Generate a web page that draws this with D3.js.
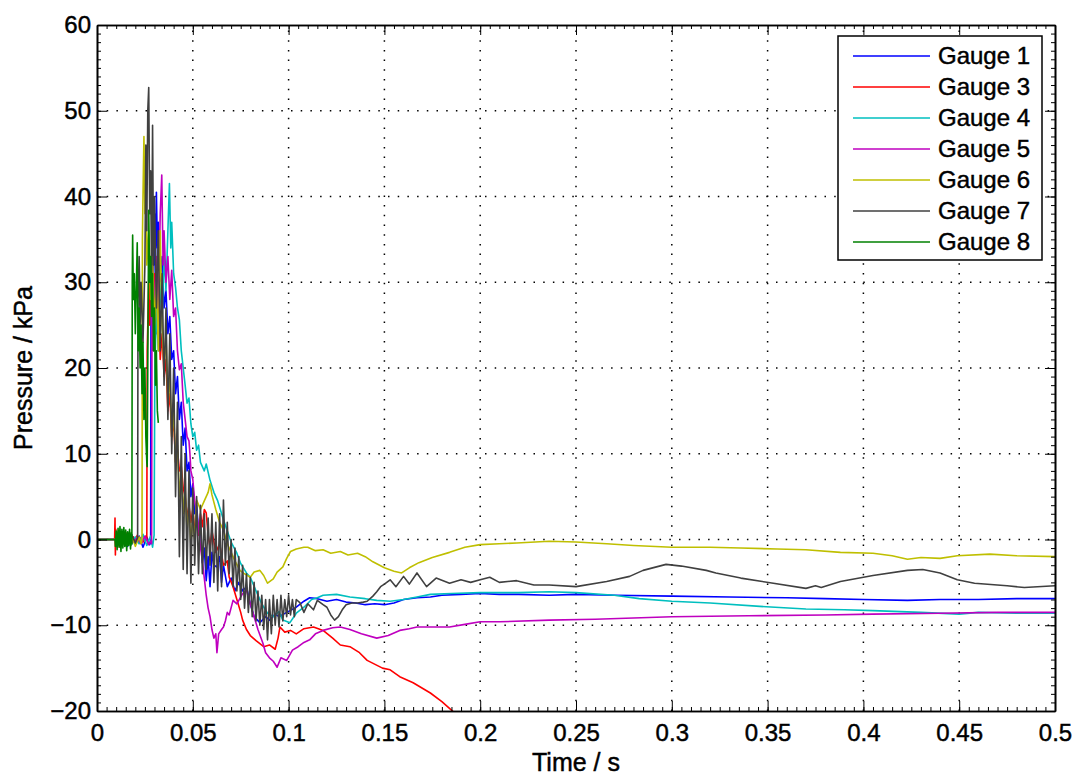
<!DOCTYPE html>
<html>
<head>
<meta charset="utf-8">
<script src="https://cdn.jsdelivr.net/npm/d3@7"></script>
<style>
  html, body { margin: 0; padding: 0; background: #fff; }
  svg { display: block; font-family: "Liberation Sans", Arial, Helvetica, sans-serif; }
  text.heavy { stroke: #000; stroke-width: 0.45px; }
</style>
</head>
<body>
<svg id="chart" width="1076" height="777"></svg>
<script>
// ---------------- data (time in s, pressure in kPa) ----------------
const xTicks = [0, 0.05, 0.1, 0.15, 0.2, 0.25, 0.3, 0.35, 0.4, 0.45, 0.5];
const xTickLabels = ["0", "0.05", "0.1", "0.15", "0.2", "0.25", "0.3", "0.35", "0.4", "0.45", "0.5"];
const yTicks = [-20, -10, 0, 10, 20, 30, 40, 50, 60];
const yTickLabels = ["\u221220", "\u221210", "0", "10", "20", "30", "40", "50", "60"];
const seriesNames = ["Gauge 1", "Gauge 3", "Gauge 4", "Gauge 5", "Gauge 6", "Gauge 7", "Gauge 8"];
const seriesColors = ["#0000ff", "#ff0000", "#00bfbf", "#bf00bf", "#bfbf00", "#404040", "#008000"];

const gauge1 = [[0,0],[0.012,0],[0.014,0.5],[0.016,-0.8],[0.018,0.6],[0.02,-0.5],[0.022,0.4],[0.024,-0.9],[0.026,0.3],[0.0275,-0.6],[0.028,-0.3],[0.0282,30],[0.029,36],[0.0295,28],[0.030,38],[0.0305,32],[0.031,40.5],[0.0315,34],[0.032,37],[0.033,30],[0.034,33],[0.035,27],[0.036,29],[0.037,24],[0.038,26],[0.039,21],[0.040,22],[0.041,17],[0.042,19],[0.043,14],[0.044,16],[0.045,11],[0.046,13],[0.047,8],[0.048,9],[0.049,5],[0.050,6.5],[0.051,3],[0.052,4],[0.053,1],[0.054,2],[0.055,-2.7],[0.056,-1],[0.057,-4.8],[0.058,-2],[0.059,-5.5],[0.060,-1.5],[0.061,-3],[0.0626,-3.2],[0.064,-2],[0.065,-5],[0.066,-3],[0.068,-5.5],[0.070,-4.5],[0.072,-6],[0.074,-5],[0.076,-6],[0.078,-5.5],[0.080,-7.5],[0.082,-9],[0.085,-9.7],[0.088,-9],[0.090,-9.4],[0.093,-8.7],[0.095,-9.0],[0.099,-8.5],[0.104,-7.9],[0.108,-7.2],[0.111,-6.8],[0.115,-6.9],[0.12,-7.2],[0.125,-7.0],[0.13,-7.3],[0.135,-7.4],[0.14,-7.6],[0.145,-7.5],[0.15,-7.6],[0.155,-7.4],[0.16,-7.0],[0.167,-6.8],[0.174,-6.7],[0.18,-6.5],[0.19,-6.4],[0.2,-6.3],[0.21,-6.4],[0.22,-6.4],[0.236,-6.5],[0.25,-6.4],[0.27,-6.5],[0.3,-6.6],[0.33,-6.7],[0.36,-6.8],[0.38,-6.9],[0.4,-7.0],[0.423,-7.1],[0.44,-7.0],[0.46,-7.0],[0.48,-6.9],[0.5,-6.9]];

const gauge3 = [[0,0],[0.0092,0],[0.0094,2.5],[0.0096,-1.8],[0.0098,1.2],[0.010,-0.8],[0.011,0.9],[0.012,-0.9],[0.013,0.6],[0.014,-0.5],[0.015,0.8],[0.016,-0.4],[0.017,0.5],[0.018,-0.6],[0.019,0.3],[0.020,-0.2],[0.021,0.5],[0.022,-0.4],[0.023,0.2],[0.024,-0.3],[0.0255,0.4],[0.026,0],[0.0262,22],[0.027,30],[0.0275,25],[0.028,33],[0.029,27],[0.030,31],[0.031,24],[0.032,28],[0.033,21],[0.034,24],[0.035,19],[0.036,21],[0.037,15],[0.038,17],[0.039,12],[0.040,14],[0.041,9],[0.042,10.5],[0.043,8],[0.044,8.5],[0.045,6],[0.046,5],[0.047,2.5],[0.048,4],[0.049,2],[0.050,3.5],[0.051,1],[0.052,2.5],[0.053,0.5],[0.054,3],[0.055,1.5],[0.056,3.5],[0.057,3.1],[0.058,0.5],[0.059,-0.9],[0.060,1],[0.062,-1.5],[0.064,-0.5],[0.066,-3],[0.068,-2.5],[0.069,-4.4],[0.071,-5.5],[0.073,-7],[0.075,-8.5],[0.076,-9.4],[0.078,-10.5],[0.080,-11.2],[0.083,-11.8],[0.087,-12.5],[0.090,-12.3],[0.093,-12.8],[0.0945,-11.5],[0.0955,-10.2],[0.098,-10.8],[0.101,-10.6],[0.104,-11.0],[0.108,-10.4],[0.113,-10.2],[0.118,-10.6],[0.123,-11.5],[0.127,-12.3],[0.132,-12.5],[0.137,-13.2],[0.141,-14.1],[0.149,-15.0],[0.153,-15.2],[0.158,-16.0],[0.165,-16.7],[0.174,-17.9],[0.18,-18.9],[0.186,-20.1],[0.19,-20.8]];

const gauge4 = [[0,0],[0.012,0],[0.014,-0.4],[0.016,0.5],[0.018,-0.6],[0.02,0.3],[0.022,-0.5],[0.024,0.6],[0.026,-0.7],[0.028,0.4],[0.029,-0.9],[0.0298,0.5],[0.0302,20],[0.031,27],[0.032,22],[0.033,30],[0.034,26],[0.035,33],[0.036,29],[0.037,36],[0.0378,41.5],[0.0385,34],[0.039,37],[0.040,31],[0.041,29.4],[0.042,27],[0.043,25.6],[0.044,22],[0.045,20],[0.046,18],[0.047,15.9],[0.048,16.5],[0.049,13.5],[0.050,12],[0.051,12.5],[0.052,10.4],[0.053,11],[0.054,9],[0.056,8],[0.057,8.8],[0.059,6.9],[0.061,5.5],[0.063,4.5],[0.066,2.3],[0.068,1],[0.07,-0.3],[0.073,-1.6],[0.075,-2.8],[0.078,-3.9],[0.08,-4.4],[0.083,-6],[0.086,-7.5],[0.089,-8.6],[0.092,-9.0],[0.095,-8.4],[0.097,-9.4],[0.1007,-9.7],[0.104,-8.6],[0.108,-7.9],[0.112,-7],[0.115,-6.8],[0.118,-6.5],[0.125,-6.4],[0.132,-6.7],[0.14,-6.9],[0.146,-7.1],[0.153,-7.2],[0.16,-7.0],[0.167,-6.7],[0.174,-6.4],[0.185,-6.3],[0.2,-6.2],[0.22,-6.2],[0.236,-6.1],[0.25,-6.2],[0.27,-6.5],[0.283,-6.9],[0.3,-7.2],[0.32,-7.4],[0.346,-7.8],[0.37,-8.1],[0.39,-8.2],[0.405,-8.3],[0.43,-8.5],[0.45,-8.7],[0.46,-8.5],[0.48,-8.6],[0.5,-8.6]];

const gauge5 = [[0,0],[0.012,0],[0.015,0.3],[0.018,-0.4],[0.021,0.2],[0.023,-0.5],[0.025,0.4],[0.027,-0.6],[0.028,-0.2],[0.0285,-0.5],[0.0287,25],[0.029,30],[0.0295,22],[0.030,28],[0.031,33],[0.032,27],[0.033,38],[0.0338,42.5],[0.0345,32],[0.035,36],[0.036,30],[0.037,33],[0.038,28],[0.039,31.4],[0.040,26],[0.041,27],[0.042,22],[0.043,19.8],[0.044,20.5],[0.045,16],[0.046,14],[0.047,12],[0.048,11.5],[0.0485,10],[0.049,8],[0.050,7],[0.051,4.5],[0.052,3],[0.053,1.5],[0.054,-0.9],[0.055,-2.5],[0.056,-4.5],[0.057,-6.5],[0.058,-8],[0.059,-9],[0.060,-10.5],[0.061,-11.5],[0.062,-11],[0.0626,-13.2],[0.0635,-11],[0.065,-10.5],[0.066,-10.2],[0.067,-9.5],[0.068,-8.5],[0.069,-8.8],[0.071,-7.1],[0.073,-7.5],[0.076,-6.3],[0.078,-5.9],[0.08,-7.5],[0.082,-9],[0.084,-10.5],[0.0866,-12.1],[0.088,-13.2],[0.090,-13.8],[0.092,-14.2],[0.094,-14.9],[0.096,-13.8],[0.099,-14.1],[0.102,-12.9],[0.105,-12.5],[0.108,-12.0],[0.111,-11.7],[0.114,-11.0],[0.118,-10.6],[0.123,-10.3],[0.127,-10.2],[0.132,-10.5],[0.138,-11.0],[0.146,-11.5],[0.152,-11.2],[0.158,-10.6],[0.163,-10.4],[0.167,-10.2],[0.175,-10.2],[0.184,-10.2],[0.192,-9.9],[0.2,-9.6],[0.21,-9.6],[0.236,-9.4],[0.26,-9.3],[0.3,-9.0],[0.34,-8.9],[0.38,-8.8],[0.405,-8.7],[0.44,-8.6],[0.47,-8.5],[0.5,-8.5]];

const gauge6 = [[0,0],[0.012,0],[0.014,0.4],[0.016,-0.6],[0.018,0.5],[0.02,-0.8],[0.022,0.3],[0.023,-0.5],[0.0235,0],[0.0237,35],[0.024,40],[0.0245,47],[0.025,38],[0.0255,44],[0.026,32],[0.027,36],[0.028,28],[0.029,33],[0.030,25],[0.031,30],[0.032,22],[0.033,36],[0.034,25],[0.035,20],[0.036,24],[0.037,16],[0.038,19],[0.039,12],[0.040,15],[0.041,9],[0.042,11],[0.043,5],[0.044,8],[0.045,3],[0.046,6],[0.047,1],[0.048,4],[0.049,-0.5],[0.050,2.5],[0.051,0],[0.052,4.6],[0.054,3.5],[0.056,4.5],[0.058,5.5],[0.059,6.5],[0.060,5.2],[0.062,3.5],[0.064,2],[0.066,1.1],[0.068,-0.5],[0.070,-1.5],[0.072,-2.5],[0.0746,-3.6],[0.077,-4],[0.080,-4.4],[0.082,-3.8],[0.085,-3.6],[0.087,-4.2],[0.089,-5.1],[0.092,-4.6],[0.094,-3.8],[0.097,-3.2],[0.099,-2.2],[0.101,-1.4],[0.104,-1.1],[0.108,-0.9],[0.110,-0.9],[0.114,-1.3],[0.118,-1.2],[0.122,-1.6],[0.127,-1.4],[0.131,-1.8],[0.136,-1.6],[0.14,-2.0],[0.144,-2.6],[0.15,-3.3],[0.155,-3.7],[0.159,-3.9],[0.163,-3.3],[0.168,-2.7],[0.175,-2.1],[0.184,-1.5],[0.192,-0.9],[0.2,-0.6],[0.21,-0.5],[0.219,-0.4],[0.236,-0.2],[0.25,-0.3],[0.266,-0.5],[0.28,-0.7],[0.3,-0.9],[0.32,-0.9],[0.336,-1.0],[0.355,-1.1],[0.37,-1.2],[0.388,-1.5],[0.405,-1.6],[0.415,-1.9],[0.423,-2.3],[0.43,-2.1],[0.44,-2.2],[0.449,-1.9],[0.466,-1.7],[0.48,-1.9],[0.5,-2.0]];

const gauge7 = [[0,0],[0.012,0],[0.014,0.3],[0.016,-0.5],[0.018,0.6],[0.02,-0.4],[0.0212,0.2],[0.0214,28],[0.022,33],[0.0225,25],[0.023,30],[0.024,23],[0.025,32],[0.0255,46],[0.026,36],[0.0265,50],[0.027,52.7],[0.0275,38],[0.028,43],[0.0285,30],[0.029,48.3],[0.0295,32],[0.030,40],[0.031,27],[0.032,36],[0.033,22],[0.034,31],[0.035,18],[0.036,27],[0.037,14],[0.038,24],[0.039,10],[0.040,20],[0.041,5],[0.042,16],[0.043,-2],[0.044,12],[0.045,-3.5],[0.046,10],[0.047,-4],[0.048,8],[0.049,-5.1],[0.050,6],[0.051,-3],[0.052,5],[0.053,-4],[0.054,4],[0.055,-4],[0.056,3],[0.057,-3.5],[0.058,2.5],[0.059,-3],[0.060,3],[0.061,-5],[0.062,2],[0.063,-6],[0.064,3],[0.065,-5.5],[0.066,4.6],[0.067,-3],[0.068,2],[0.069,-4],[0.070,0],[0.071,-5.5],[0.072,-1],[0.073,-6],[0.074,-2],[0.075,-7],[0.076,-3],[0.077,-8],[0.078,-4],[0.079,-8.5],[0.080,-4.4],[0.081,-9],[0.082,-5],[0.083,-9.5],[0.084,-6],[0.085,-10],[0.086,-6.5],[0.087,-10.5],[0.088,-7],[0.089,-11.7],[0.090,-7],[0.091,-11],[0.092,-6.5],[0.093,-10],[0.094,-7],[0.095,-10.2],[0.096,-6.5],[0.097,-9.5],[0.098,-7],[0.099,-9],[0.100,-6.5],[0.101,-8.8],[0.102,-7],[0.103,-9],[0.104,-7],[0.106,-7.4],[0.108,-8.5],[0.110,-7.5],[0.113,-8.2],[0.115,-7.1],[0.118,-7.6],[0.120,-7.9],[0.122,-8.8],[0.124,-9.4],[0.126,-9],[0.128,-8.2],[0.130,-7.6],[0.133,-7.4],[0.136,-7.4],[0.139,-7.3],[0.141,-7.2],[0.144,-6.6],[0.146,-6.1],[0.148,-5.5],[0.150,-5.2],[0.153,-4.7],[0.156,-5.5],[0.160,-4.3],[0.163,-5.2],[0.167,-3.9],[0.172,-5.5],[0.177,-4.5],[0.184,-5.1],[0.19,-4.7],[0.195,-5.0],[0.2,-4.7],[0.205,-4.4],[0.21,-5.0],[0.219,-4.8],[0.228,-5.3],[0.236,-5.3],[0.25,-5.5],[0.266,-4.9],[0.278,-4.3],[0.285,-3.6],[0.297,-2.9],[0.305,-3.1],[0.318,-3.6],[0.323,-3.9],[0.336,-4.5],[0.353,-5.1],[0.37,-5.7],[0.375,-5.4],[0.378,-5.6],[0.388,-4.9],[0.405,-4.2],[0.423,-3.6],[0.431,-3.5],[0.44,-3.9],[0.449,-4.7],[0.458,-5.1],[0.475,-5.4],[0.484,-5.6],[0.5,-5.4]];

const gauge8 = [[0,0],[0.0094,0],[0.0096,-0.8],[0.010,1.0],[0.0105,-1.2],[0.011,1.3],[0.0115,-0.9],[0.012,1.5],[0.0125,-1.4],[0.013,1.2],[0.0135,-1.0],[0.014,1.4],[0.0145,-0.8],[0.015,1.1],[0.0155,-1.3],[0.016,0.9],[0.0165,-0.7],[0.017,1.2],[0.0175,-1.1],[0.018,0.8],[0.0182,-0.5],[0.0184,30],[0.0186,35.5],[0.019,28],[0.0195,31],[0.020,24],[0.0205,29],[0.021,34.6],[0.0215,22],[0.022,27],[0.0225,20],[0.023,25],[0.0235,17],[0.024,23],[0.0245,14],[0.025,20],[0.0255,12],[0.026,9],[0.0262,8.5],[0.0265,20],[0.027,38.4],[0.0275,30],[0.028,33],[0.0285,26],[0.029,31],[0.0295,22],[0.030,27],[0.0305,18],[0.031,22],[0.0315,15],[0.032,13.6]];

const seriesData = [gauge1, gauge3, gauge4, gauge5, gauge6, gauge7, gauge8];

// ---------------- layout ----------------
(function () {
const svg = d3.select("#chart");
const pL = 97, pR = 1055, pT = 25, pB = 711;
const x = d3.scaleLinear().domain([0, 0.5]).range([pL, pR]);
const y = d3.scaleLinear().domain([-20, 60]).range([pB, pT]);

svg.append("defs").append("clipPath").attr("id", "plotclip")
  .append("rect").attr("x", pL).attr("y", pT).attr("width", pR - pL).attr("height", pB - pT);

// grid (dotted)
const grid = svg.append("g").attr("stroke", "#000").attr("stroke-width", 1.5).attr("stroke-dasharray", "1.5,8.2");
grid.selectAll("line.v").data(xTicks.slice(1, -1)).join("line").attr("class", "v")
  .attr("x1", d => x(d)).attr("x2", d => x(d)).attr("y1", pB).attr("y2", pT);
grid.selectAll("line.h").data(yTicks.slice(1, -1)).join("line").attr("class", "h")
  .attr("y1", d => y(d)).attr("y2", d => y(d)).attr("x1", pL).attr("x2", pR);

// series
const line = d3.line().x(d => x(d[0])).y(d => y(d[1]));
const plot = svg.append("g").attr("clip-path", "url(#plotclip)");
seriesData.forEach((s, i) => {
  plot.append("path").datum(s).attr("d", line)
    .attr("fill", "none").attr("stroke", seriesColors[i]).attr("stroke-width", 1.6)
    .attr("stroke-linejoin", "round");
});

// axes with inward ticks, box all around
const tickFont = 24;
const xMinor = d3.range(0, 0.5001, 0.005);
const yMinor = d3.range(-20, 60.001, 1);

svg.append("g").attr("transform", `translate(0,${pB})`)
  .call(d3.axisBottom(x).tickValues(xTicks).tickFormat((d, i) => xTickLabels[i]).tickSizeInner(-10).tickSizeOuter(0).tickPadding(13));
svg.append("g").attr("transform", `translate(0,${pT})`)
  .call(d3.axisTop(x).tickValues(xTicks).tickFormat("").tickSizeInner(-10).tickSizeOuter(0));
svg.append("g").attr("transform", `translate(${pL},0)`)
  .call(d3.axisLeft(y).tickValues(yTicks).tickFormat((d, i) => yTickLabels[i]).tickSizeInner(-10).tickSizeOuter(0).tickPadding(6));
svg.append("g").attr("transform", `translate(${pR},0)`)
  .call(d3.axisRight(y).tickValues(yTicks).tickFormat("").tickSizeInner(-10).tickSizeOuter(0));

// minor ticks
svg.append("g").attr("transform", `translate(0,${pB})`).call(d3.axisBottom(x).tickValues(xMinor).tickFormat("").tickSizeInner(-4).tickSizeOuter(0));
svg.append("g").attr("transform", `translate(0,${pT})`).call(d3.axisTop(x).tickValues(xMinor).tickFormat("").tickSizeInner(-4).tickSizeOuter(0));
svg.append("g").attr("transform", `translate(${pL},0)`).call(d3.axisLeft(y).tickValues(yMinor).tickFormat("").tickSizeInner(-4).tickSizeOuter(0));
svg.append("g").attr("transform", `translate(${pR},0)`).call(d3.axisRight(y).tickValues(yMinor).tickFormat("").tickSizeInner(-4).tickSizeOuter(0));

svg.selectAll(".domain").attr("stroke", "#000").attr("stroke-width", 1.6);
svg.selectAll(".tick line").attr("stroke", "#000").attr("stroke-width", 1);
svg.selectAll(".tick text").attr("font-size", tickFont).attr("fill", "#000").attr("class", "heavy")
  .attr("font-family", "'Liberation Sans', Arial, sans-serif");

// axis labels
svg.append("text").attr("class", "heavy").attr("x", (pL + pR) / 2).attr("y", 771).attr("text-anchor", "middle")
  .attr("font-size", 25).text("Time / s");
svg.append("text").attr("class", "heavy").attr("transform", `translate(32,${(pT + pB) / 2}) rotate(-90)`).attr("text-anchor", "middle")
  .attr("font-size", 25).text("Pressure / kPa");

// legend
const lg = svg.append("g");
const lgX = 838, lgY = 36, lgW = 204, lgH = 224, rowH = 31;
lg.append("rect").attr("x", lgX).attr("y", lgY).attr("width", lgW).attr("height", lgH)
  .attr("fill", "#fff").attr("stroke", "#000").attr("stroke-width", 1.5);
seriesNames.forEach((n, i) => {
  const cy = lgY + 20 + i * rowH;
  lg.append("line").attr("x1", lgX + 15).attr("x2", lgX + 92).attr("y1", cy).attr("y2", cy)
    .attr("stroke", seriesColors[i]).attr("stroke-width", 1.5);
  lg.append("text").attr("class", "heavy").attr("x", lgX + 100).attr("y", cy).attr("dy", "0.35em")
    .attr("font-size", 24).text(n);
});
})();
</script>
</body>
</html>
